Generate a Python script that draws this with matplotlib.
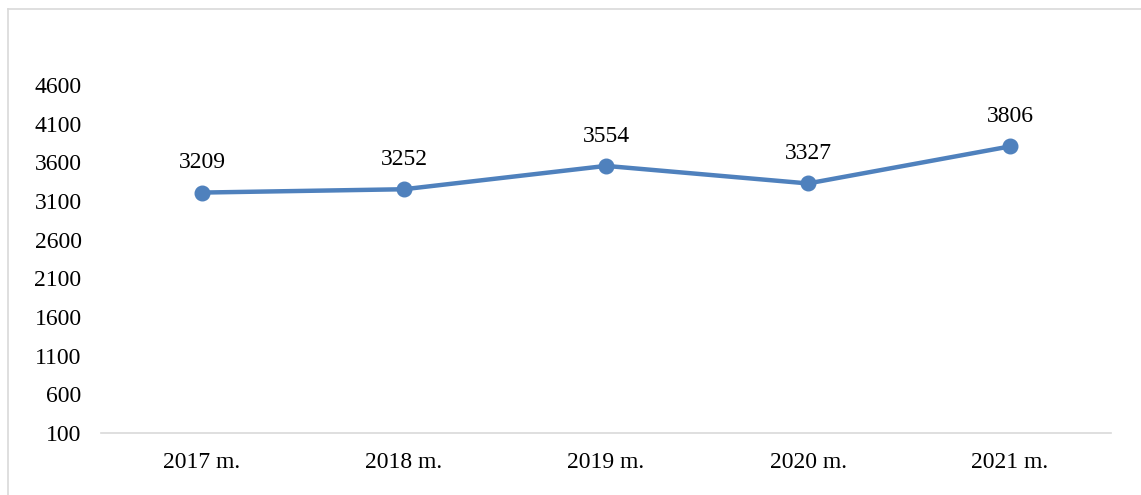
import matplotlib.pyplot as plt
from matplotlib.lines import Line2D

# Data
years = ['2017 m.', '2018 m.', '2019 m.', '2020 m.', '2021 m.']
values = [3209, 3252, 3554, 3327, 3806]
yticks = [100, 600, 1100, 1600, 2100, 2600, 3100, 3600, 4100, 4600]

plt.rcParams['font.family'] = ['Liberation Serif', 'DejaVu Serif']

fig = plt.figure(figsize=(11.41, 4.95), dpi=100)
ax = fig.add_axes([101 / 1141, 1 - 433 / 495, 1010 / 1141, 348 / 495])

x = list(range(len(years)))
ax.plot(x, values, color='#4f81bd', linewidth=3.2, marker='o', markersize=10.5,
        solid_capstyle='round')

for xi, v in zip(x, values):
    ax.annotate(str(v), (xi, v), xytext=(0, 21.5), textcoords='offset points',
                ha='center', va='center', fontsize=17, color='black')

ax.set_xlim(-0.5, 4.5)
ax.set_ylim(100, 4600)
ax.set_xticks(x)
ax.set_xticklabels(years)
ax.set_yticks(yticks)
ax.tick_params(axis='both', length=0, labelsize=17)
ax.tick_params(axis='x', pad=14)
ax.tick_params(axis='y', pad=14)

for s in ['top', 'right', 'left']:
    ax.spines[s].set_visible(False)
ax.spines['bottom'].set_color('#d9d9d9')
ax.spines['bottom'].set_linewidth(1.2)

# chart border: only top and left edges fall inside the image
bx, by = 7.5 / 1141, 1 - 8.5 / 495
fig.add_artist(Line2D([bx, 1.0], [by, by], transform=fig.transFigure,
                      color='#d9d9d9', linewidth=1.2))
fig.add_artist(Line2D([bx, bx], [0.0, by], transform=fig.transFigure,
                      color='#d9d9d9', linewidth=1.2))

fig.savefig('out.png', dpi=100)
